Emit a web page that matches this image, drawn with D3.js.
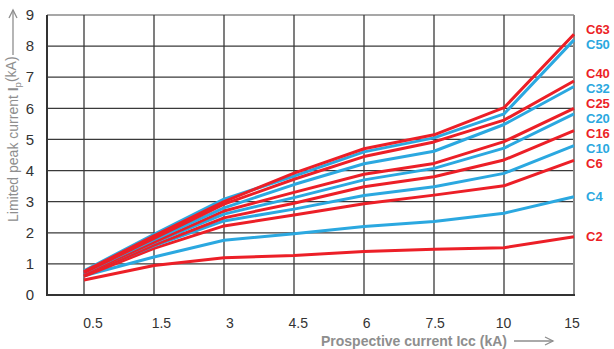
<!DOCTYPE html>
<html>
<head>
<meta charset="utf-8">
<script src="https://cdn.jsdelivr.net/npm/d3@7"></script>
<style>
html,body{margin:0;padding:0;background:#fff;}
svg{display:block;font-family:"Liberation Sans",Arial,sans-serif;}
</style>
</head>
<body>
<svg id="chart" width="614" height="349"></svg>
<script>
// ---- data ----
const categories = ["0.5","1.5","3","4.5","6","7.5","10","15"];
const yTicks = [0,1,2,3,4,5,6,7,8,9];
const seriesNames = ["C63","C50","C40","C32","C25","C20","C16","C10","C6","C4","C2"];
const C63 = [0.75,1.90,3.00,3.92,4.70,5.15,6.02,8.38];
const C50 = [0.78,1.95,3.08,3.82,4.60,5.05,5.82,8.20];
const C40 = [0.72,1.82,2.92,3.72,4.45,4.92,5.62,6.88];
const C32 = [0.72,1.78,2.80,3.55,4.22,4.62,5.48,6.70];
const C25 = [0.68,1.70,2.70,3.30,3.88,4.23,4.93,6.00];
const C20 = [0.70,1.68,2.60,3.13,3.70,4.07,4.72,5.82];
const C16 = [0.62,1.60,2.48,2.95,3.48,3.80,4.34,5.28];
const C10 = [0.66,1.58,2.38,2.76,3.20,3.48,3.91,4.80];
const C6  = [0.60,1.50,2.22,2.57,2.93,3.21,3.51,4.33];
const C4  = [0.62,1.22,1.76,1.97,2.20,2.36,2.63,3.16];
const C2  = [0.48,0.95,1.20,1.27,1.40,1.47,1.52,1.87];
const seriesValues = [C63,C50,C40,C32,C25,C20,C16,C10,C6,C4,C2];
const xTitle = "Prospective current Icc (kA)";

// ---- layout ----
const RED = "#ec1f27", BLUE = "#2ba8e0";
const pL = 47, pR = 574, pT = 15, pB = 295;
const svg = d3.select("#chart");

const x = d3.scalePoint().domain(categories).range([84, pR]);
const xLab = d3.scalePoint().domain(categories).range([93, 572]);
const y = d3.scaleLinear().domain([0,9]).range([pB, pT]);

// grid
const grid = svg.append("g");
grid.selectAll("line.h").data(yTicks.filter(d=>d>0)).join("line")
  .attr("x1", pL).attr("x2", pR)
  .attr("y1", d=>y(d)).attr("y2", d=>y(d))
  .attr("stroke", d=> d===9 ? "#8a8a8a" : "#3a3a3a").attr("stroke-width", 1.3);
grid.selectAll("line.v").data(categories).join("line")
  .attr("x1", d=>x(d)).attr("x2", d=>x(d))
  .attr("y1", pT).attr("y2", pB)
  .attr("stroke", (d,i)=> i===categories.length-1 ? "#8a8a8a" : "#3a3a3a")
  .attr("stroke-width", (d,i)=> i===categories.length-1 ? 2 : 1.3);

// axes lines
svg.append("line").attr("x1", pL).attr("x2", pL).attr("y1", pT).attr("y2", pB+1)
  .attr("stroke", "#333").attr("stroke-width", 2);
svg.append("line").attr("x1", pL-1).attr("x2", pR+1).attr("y1", pB).attr("y2", pB)
  .attr("stroke", "#333").attr("stroke-width", 2);

// y tick labels
svg.append("g").selectAll("text").data(yTicks).join("text")
  .attr("x", 34).attr("y", d=>y(d)).attr("dy", "0.35em")
  .attr("text-anchor", "end").attr("font-size", 15).attr("fill", "#333")
  .text(d=>d);

// x tick labels
svg.append("g").selectAll("text").data(categories).join("text")
  .attr("x", d=>xLab(d)).attr("y", 323).attr("dy", "0.35em")
  .attr("text-anchor", "middle").attr("font-size", 14).attr("fill", "#333")
  .text(d=>d);

// series lines
const line = d3.line().x((d,i)=>x(categories[i])).y(d=>y(d));
const colorOf = i => i % 2 === 0 ? RED : BLUE;
const order = d3.range(seriesNames.length).reverse();
svg.append("g").selectAll("path").data(order).join("path")
  .attr("d", i=>line(seriesValues[i]))
  .attr("fill", "none")
  .attr("stroke", i=>colorOf(i))
  .attr("stroke-width", 3)
  .attr("stroke-linejoin", "round");

// series labels (end positions, de-overlapped)
const labs = seriesNames.map((n,i)=>({n, i, y: y(seriesValues[i][seriesValues[i].length-1])}));
labs.sort((a,b)=>a.y-b.y);
const gap = 15;
for (let it=0; it<300; it++){
  for (let k=1; k<labs.length; k++){
    const d = labs[k].y - labs[k-1].y;
    if (d < gap){
      const s = (gap - d)/2;
      labs[k].y += s; labs[k-1].y -= s;
    }
  }
}
svg.append("g").selectAll("text").data(labs).join("text")
  .attr("x", 586).attr("y", d=>d.y).attr("dy", "0.35em")
  .attr("font-size", 13).attr("font-weight", "bold")
  .attr("fill", d=>colorOf(d.i))
  .text(d=>d.n);

// x title + arrow
const TG = "#8e8e8e";
svg.append("text").attr("x", 321).attr("y", 341).attr("dy", "0.35em")
  .attr("font-size", 14).attr("font-weight", "bold").attr("fill", TG).text(xTitle);
svg.append("line").attr("x1", 514).attr("x2", 553).attr("y1", 341).attr("y2", 341)
  .attr("stroke", TG).attr("stroke-width", 1.3);
svg.append("path").attr("d", "M545,337 L553,341 L545,345").attr("fill","none")
  .attr("stroke", TG).attr("stroke-width", 1.3);

// y title + arrow
const yt = svg.append("text").attr("transform", "translate(13,222) rotate(-90)")
  .attr("dy", "0.35em").attr("font-size", 14).attr("fill", TG);
yt.append("tspan").text("Limited peak current ");
yt.append("tspan").attr("font-weight","bold").text("I");
yt.append("tspan").attr("font-size", 9.5).attr("dy", "0.35em").text("p");
yt.append("tspan").attr("dy", "-0.35em").text("(kA)");
svg.append("line").attr("x1", 13).attr("x2", 13).attr("y1", 55).attr("y2", 10)
  .attr("stroke", TG).attr("stroke-width", 1.3);
svg.append("path").attr("d", "M9,18 L13,10 L17,18").attr("fill","none")
  .attr("stroke", TG).attr("stroke-width", 1.3);
</script>
</body>
</html>
